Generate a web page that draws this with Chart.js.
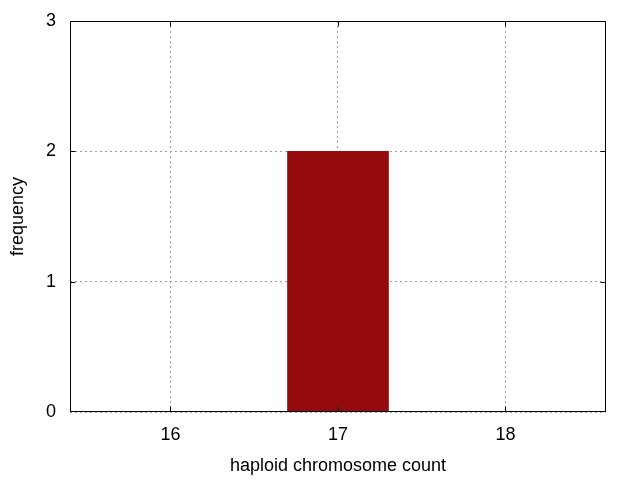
<!DOCTYPE html>
<html>
<head>
<meta charset="utf-8">
<script src="https://cdn.jsdelivr.net/npm/chart.js@4/dist/chart.umd.min.js"></script>
<style>
html,body{margin:0;padding:0;background:#fff;}
#wrap{width:640px;height:480px;}
</style>
</head>
<body>
<div id="wrap"><canvas id="c" width="640" height="480"></canvas></div>
<script>
const categories = [17];
const frequencies = [2];
const xTicks = [16, 17, 18];
const yTicks = [0, 1, 2, 3];
const xLabel = 'haploid chromosome count';
const yLabel = 'frequency';

const FONT = {family: '"Liberation Sans", Arial, sans-serif', size: 18};

const framePlugin = {
  id: 'frame',
  afterDraw(chart) {
    const {ctx, chartArea: a, scales} = chart;
    ctx.save();
    ctx.strokeStyle = '#000';
    ctx.lineWidth = 1;
    const L = Math.round(a.left) + 0.5, R = Math.round(a.right) - 0.5;
    const T = Math.round(a.top) + 0.5, B = Math.round(a.bottom) - 0.5;
    ctx.beginPath();
    ctx.rect(L, T, R - L, B - T);
    const tl = 5;
    xTicks.forEach(v => {
      const x = Math.min(R, Math.max(L, Math.round(scales.x.getPixelForValue(v)) + 0.5));
      ctx.moveTo(x, B); ctx.lineTo(x, B - tl);
      ctx.moveTo(x, T); ctx.lineTo(x, T + tl);
    });
    yTicks.forEach(v => {
      const y = Math.min(B, Math.max(T, Math.round(scales.y.getPixelForValue(v)) + 0.5));
      ctx.moveTo(L, y); ctx.lineTo(L + tl, y);
      ctx.moveTo(R, y); ctx.lineTo(R - tl, y);
    });
    ctx.stroke();
    ctx.restore();
  }
};

new Chart(document.getElementById('c'), {
  type: 'bar',
  data: {
    datasets: [{
      data: categories.map((c, i) => ({x: c, y: frequencies[i]})),
      backgroundColor: '#950a0c',
      borderWidth: 0,
      barThickness: 101
    }]
  },
  options: {
    responsive: false,
    animation: false,
    devicePixelRatio: 1,
    layout: {padding: {left: 0, top: 21, right: 34, bottom: 0}},
    plugins: {legend: {display: false}, tooltip: {enabled: false}},
    scales: {
      x: {
        type: 'linear',
        min: 15.4, max: 18.6,
        offset: false,
        afterFit(s) { s.height = 68; s.paddingLeft = 0; s.paddingRight = 0; },
        afterBuildTicks(s) { s.ticks = xTicks.map(v => ({value: v})); },
        grid: {color: '#a0a0a0', lineWidth: 1, drawTicks: false, offset: false},
        border: {display: false, dash: [2, 3]},
        ticks: {color: '#000', font: FONT, padding: 12, maxRotation: 0},
        title: {display: true, text: xLabel, color: '#000', font: FONT, padding: {top: 0, bottom: 3}}
      },
      y: {
        type: 'linear',
        min: 0, max: 3,
        afterFit(s) { s.width = 70; s.paddingTop = 0; s.paddingBottom = 0; },
        afterBuildTicks(s) { s.ticks = yTicks.map(v => ({value: v})); },
        grid: {color: '#a0a0a0', lineWidth: 1, drawTicks: false},
        border: {display: false, dash: [2, 3]},
        ticks: {color: '#000', font: FONT, padding: 14},
        title: {display: true, text: yLabel, color: '#000', font: FONT, padding: {top: 7, bottom: 0}}
      }
    }
  },
  plugins: [framePlugin]
});
</script>
</body>
</html>
